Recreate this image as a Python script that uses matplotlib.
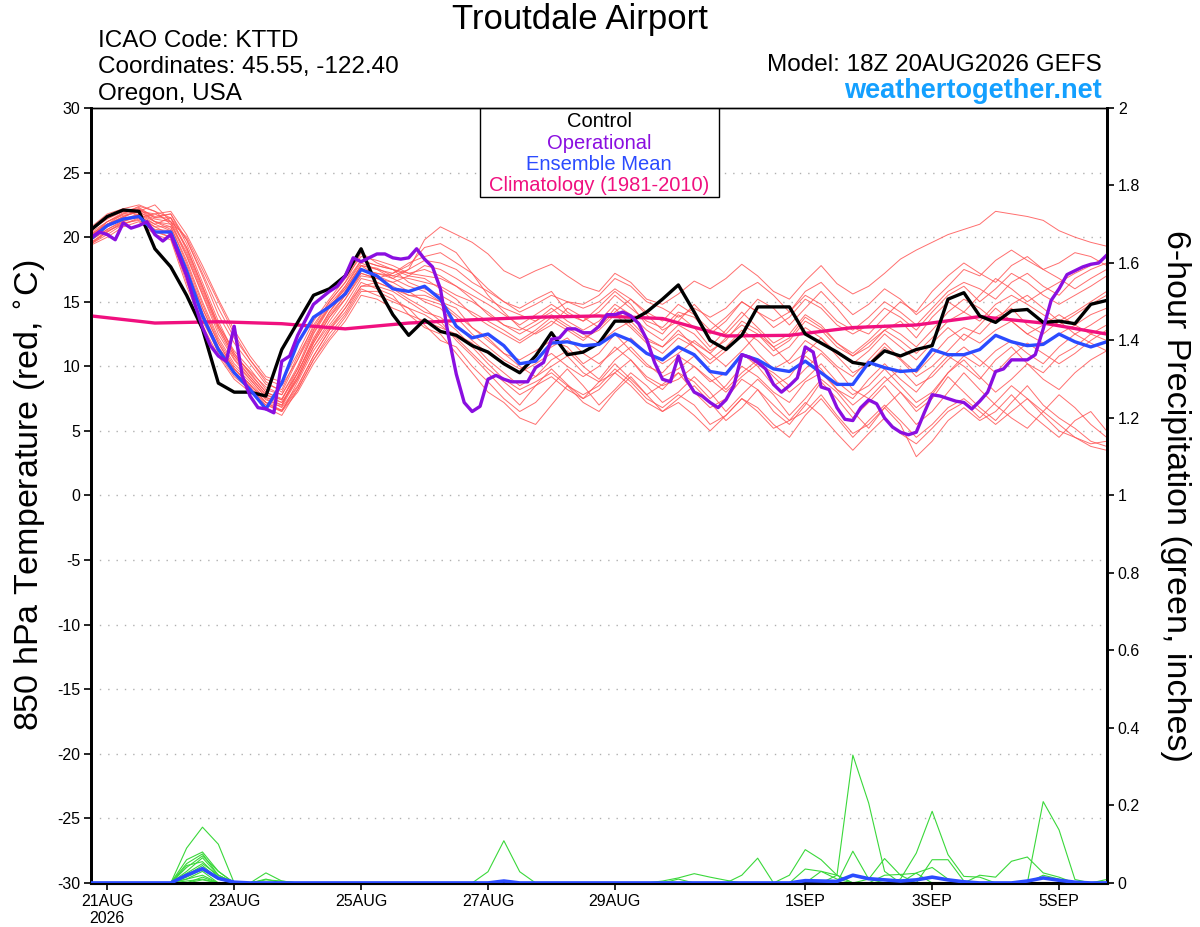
import numpy as np
import matplotlib
matplotlib.use("Agg")
from matplotlib import pyplot as plt
from matplotlib.patches import Rectangle

plt.rcParams['font.family'] = ['Liberation Sans', 'DejaVu Sans']
plt.rcParams['axes.unicode_minus'] = False

# forecast hours from 18Z 20AUG2026
fhr6 = np.arange(0, 385, 6)
fhr3 = np.arange(0, 385, 3)
fhr_clim = np.arange(0, 385, 24)

control = [20.6, 21.6, 22.1, 22.0, 19.1, 17.7, 15.5, 12.9, 8.7, 8.0, 8.0, 7.7, 11.3, 13.4, 15.5, 16.0, 17.0, 19.1, 16.2, 14.0, 12.4, 13.6,
           12.7, 12.4, 11.6, 11.1, 10.2, 9.5, 10.8, 12.6, 10.9, 11.1, 11.8, 13.5, 13.5, 14.2, 15.2, 16.3, 14.2,
           12.0, 11.3, 12.4, 14.6, 14.6, 14.6, 12.5, 11.8, 11.1, 10.3, 10.1, 11.2, 10.8, 11.3, 11.6, 15.2, 15.7,
           13.9, 13.4, 14.3, 14.4, 13.4, 13.5, 13.3, 14.8, 15.1]

ens_mean = [19.9, 20.9, 21.4, 21.6, 20.4, 20.4, 17.4, 13.9, 11.3, 9.5, 8.2, 6.7, 8.7, 11.8, 13.8, 14.6, 15.6, 17.5, 17.0, 16.0, 15.8, 16.2,
            15.2, 13.1, 12.2, 12.5, 11.6, 10.2, 10.4, 11.8, 11.9, 11.6, 11.7, 12.5, 12.0, 11.0, 10.5, 11.5, 10.9,
            9.6, 9.4, 10.9, 10.5, 9.8, 9.6, 10.4, 9.5, 8.6, 8.6, 10.3, 9.9, 9.6, 9.7, 11.3, 10.9, 10.9,
            11.3, 12.4, 11.9, 11.6, 11.7, 12.5, 11.9, 11.5, 11.9]

operational = [20.0, 20.4, 20.2, 19.8, 21.1, 20.7, 20.9, 21.2, 20.2, 19.7, 20.2, 18.6, 17.0, 14.9, 13.0, 11.6, 10.8, 10.4, 13.1, 9.3, 7.7,
               6.8, 6.7, 6.4, 10.4, 10.8, 12.4, 13.6, 14.8, 15.3, 15.8, 16.2, 17.0, 18.4, 18.1, 18.4, 18.7, 18.7, 18.4, 18.3, 18.4, 19.1,
               18.3, 17.7, 16.0, 12.4, 9.4, 7.2, 6.5, 6.9, 9.0, 9.3, 9.0, 8.8, 8.8, 8.8, 9.9, 10.3, 12.1, 12.2,
               12.9, 12.9, 12.6, 12.6, 13.1, 14.0, 14.0, 14.2, 13.9, 13.3, 12.1, 10.3, 9.0, 8.8, 10.8, 9.0, 8.0, 7.7,
               7.2, 6.8, 7.4, 8.5, 10.9, 10.7, 10.3, 9.8, 8.6, 8.0, 8.5, 9.1, 11.5, 11.1, 8.4, 8.2, 6.8, 5.9,
               5.8, 6.8, 7.4, 7.1, 6.0, 5.3, 4.9, 4.7, 4.9, 6.4, 7.8, 7.7, 7.5, 7.3, 7.2, 6.7, 7.3, 8.0,
               9.6, 9.8, 10.5, 10.5, 10.5, 10.9, 12.9, 15.1, 16.0, 17.1, 17.4, 17.7, 17.9, 18.0, 18.6]

climatology = [13.9, 13.35, 13.45, 13.3, 12.9, 13.35, 13.6, 13.8, 13.9, 13.7, 12.35, 12.4, 13.0, 13.2, 13.85, 13.35, 12.5]

members = [
    [20.5, 21.5, 22.0, 22.3, 21.5, 21.8, 19.5, 16.5, 13.5, 11.0, 9.5, 8.0, 7.5, 9.5, 12.0, 14.0, 15.5, 17.5, 17.2, 17.0, 17.5, 19.8,
     20.8, 20.2, 19.6, 18.7, 17.4, 16.8, 17.4, 17.9, 17.0, 16.2, 15.8, 17.2, 16.5, 15.2, 14.8, 15.6, 16.6,
     16.0, 16.8, 17.9, 17.0, 15.8, 15.2, 16.6, 17.8, 16.4, 15.6, 16.2, 17.2, 18.3, 19.0, 19.6, 20.2, 20.6,
     21.0, 22.0, 21.8, 21.6, 21.3, 20.5, 20.0, 19.6, 19.3],
    [19.8, 20.6, 21.2, 21.8, 21.0, 20.5, 17.8, 14.5, 11.8, 9.8, 8.6, 7.2, 6.5, 8.8, 11.2, 13.0, 14.5, 16.2, 16.5, 16.0, 15.2, 14.5,
     13.5, 12.0, 10.8, 9.5, 8.2, 7.0, 8.5, 9.8, 8.6, 7.5, 8.8, 10.2, 9.0, 7.8, 8.6, 9.5, 8.0,
     6.8, 7.5, 9.0, 8.2, 6.5, 5.5, 7.0, 8.8, 7.5, 6.0, 7.2, 8.5, 7.0, 5.5, 6.5, 8.0, 9.5,
     8.2, 7.0, 6.0, 5.2, 6.5, 7.8, 6.8, 5.5, 4.5],
    [20.2, 21.0, 21.8, 22.0, 22.5, 21.2, 20.0, 17.5, 15.0, 12.5, 10.5, 8.8, 8.0, 10.5, 13.2, 15.0, 16.5, 18.2, 17.8, 17.5, 17.0, 16.8,
     16.0, 15.2, 14.0, 13.2, 12.5, 11.8, 12.6, 13.5, 12.8, 12.0, 13.0, 14.5, 13.2, 12.0, 11.5, 12.8, 11.5,
     10.2, 11.2, 12.5, 11.0, 9.8, 10.5, 12.0, 11.2, 10.0, 9.2, 10.5, 11.8, 10.6, 9.5, 10.8, 12.2, 13.0,
     12.5, 13.8, 14.5, 13.2, 12.5, 13.5, 14.2, 15.0, 15.8],
    [19.5, 20.2, 21.0, 21.5, 20.5, 20.0, 16.5, 13.5, 11.2, 9.5, 8.2, 6.8, 6.2, 8.2, 10.5, 12.5, 14.0, 16.0, 15.5, 15.0, 14.5, 13.2,
     12.0, 11.5, 10.0, 8.8, 7.5, 6.5, 7.2, 8.5, 9.8, 8.5, 7.0, 8.2, 9.5, 8.5, 7.2, 8.0, 9.2,
     8.0, 6.5, 7.8, 9.0, 7.8, 6.2, 7.5, 9.0, 8.0, 6.5, 5.2, 6.8, 8.0, 6.5, 7.5, 9.2, 8.0,
     6.8, 5.8, 7.2, 8.5, 7.0, 6.0, 5.2, 4.2, 3.8],
    [20.8, 21.8, 22.2, 21.6, 21.0, 21.5, 19.0, 16.0, 13.0, 10.8, 9.2, 7.8, 7.2, 9.0, 11.5, 13.5, 15.2, 17.0, 16.8, 17.2, 18.0, 18.5,
     18.8, 18.0, 17.2, 16.0, 15.0, 14.5, 15.2, 15.8, 14.2, 13.5, 14.6, 15.8, 14.8, 13.2, 12.5, 14.0, 13.0,
     11.5, 12.8, 14.2, 13.0, 11.8, 12.5, 14.0, 13.2, 11.8, 10.8, 11.5, 12.8, 13.5, 12.2, 13.8, 15.0, 14.2,
     15.5, 16.8, 16.0, 15.0, 15.8, 16.5, 17.2, 17.8, 18.5],
    [19.6, 20.5, 21.0, 21.4, 20.8, 20.2, 17.0, 14.0, 11.5, 9.8, 8.5, 7.5, 6.8, 8.5, 10.8, 12.8, 14.5, 16.5, 16.0, 15.5, 14.0, 13.0,
     12.5, 11.0, 9.5, 8.0, 7.2, 6.0, 5.5, 7.0, 8.5, 7.2, 6.5, 8.0, 9.2, 7.8, 6.5, 7.5, 8.5,
     7.2, 5.8, 6.8, 8.2, 7.0, 5.8, 6.5, 7.8, 6.2, 4.8, 5.5, 6.8, 5.5, 3.0, 4.2, 5.8, 6.8,
     5.8, 6.5, 7.8, 6.5, 5.5, 4.5, 5.8, 6.5, 5.0],
    [20.0, 21.2, 21.8, 22.4, 22.0, 21.0, 18.5, 15.5, 12.5, 10.5, 9.0, 7.6, 7.0, 9.5, 12.0, 14.2, 15.8, 17.8, 17.5, 16.8, 16.2, 15.8,
     15.0, 14.0, 13.0, 12.2, 11.0, 10.5, 11.2, 12.0, 11.5, 10.2, 11.0, 12.5, 11.2, 10.0, 9.5, 10.8, 10.0,
     8.8, 9.5, 11.0, 10.0, 8.5, 9.2, 10.8, 9.8, 8.2, 7.5, 9.0, 10.2, 9.0, 8.0, 9.5, 10.8, 10.0,
     9.0, 10.5, 11.5, 10.2, 9.5, 10.8, 11.5, 12.5, 13.2],
    [20.3, 21.0, 21.6, 22.0, 21.8, 22.0, 20.2, 17.8, 15.2, 12.8, 10.8, 9.2, 8.8, 11.0, 13.5, 15.2, 16.8, 18.5, 18.2, 17.8, 17.2, 17.5,
     17.0, 16.2, 15.5, 14.8, 14.0, 13.2, 14.0, 14.8, 14.0, 13.5, 14.2, 15.5, 14.5, 13.5, 13.0, 14.2, 13.8,
     12.5, 13.5, 15.0, 14.2, 13.0, 13.8, 15.2, 14.5, 13.2, 12.5, 13.2, 14.5, 13.8, 12.8, 14.2, 15.5, 16.2,
     15.0, 16.0, 17.2, 16.5, 15.5, 14.8, 15.5, 16.2, 17.0],
    [19.4, 20.0, 20.8, 21.2, 20.2, 19.8, 16.2, 13.2, 10.8, 9.0, 8.0, 7.0, 6.5, 8.0, 10.2, 12.0, 13.5, 15.5, 15.2, 14.5, 14.0, 13.5,
     13.0, 12.5, 11.8, 10.5, 9.5, 8.5, 9.2, 10.5, 11.2, 10.0, 9.0, 10.5, 11.5, 10.2, 9.2, 9.8, 10.8,
     9.5, 8.2, 9.5, 10.5, 9.2, 8.0, 9.0, 10.2, 8.8, 7.8, 8.5, 9.8, 8.5, 7.2, 8.0, 9.5, 10.5,
     9.2, 8.0, 9.0, 10.2, 9.0, 8.2, 9.5, 10.5, 11.2],
    [20.6, 21.4, 22.0, 22.2, 21.2, 21.0, 18.8, 15.8, 13.0, 10.8, 9.6, 8.4, 7.8, 10.0, 12.8, 14.6, 16.0, 17.8, 17.0, 16.5, 17.0, 17.8,
     17.5, 16.8, 16.0, 15.2, 14.5, 14.0, 13.5, 14.2, 15.0, 14.8, 15.5, 16.8, 16.2, 15.0, 14.5, 13.8, 14.5,
     13.8, 14.5, 15.8, 16.5, 15.5, 14.2, 15.8, 16.5, 15.2, 14.0, 14.8, 16.0, 15.2, 14.0, 15.0, 16.2, 17.5,
     17.0, 18.2, 19.0, 18.2, 17.5, 18.0, 18.8, 18.5, 17.8],
    [19.8, 20.8, 21.4, 21.8, 21.2, 20.8, 18.0, 14.8, 12.0, 10.0, 8.8, 7.4, 7.0, 9.2, 11.8, 13.8, 15.2, 17.2, 16.8, 16.5, 15.8, 15.0,
     14.5, 13.2, 12.0, 11.0, 10.2, 9.5, 10.2, 11.0, 10.0, 9.2, 10.0, 11.5, 10.5, 9.0, 8.2, 9.5, 8.8,
     7.5, 8.5, 10.0, 9.2, 8.0, 7.2, 8.8, 9.5, 8.2, 7.0, 8.0, 9.2, 8.0, 6.8, 7.8, 9.5, 10.8,
     10.0, 11.2, 12.0, 11.0, 10.2, 11.5, 12.5, 13.2, 14.0],
    [20.1, 21.0, 21.5, 21.5, 21.8, 21.2, 19.2, 16.2, 13.2, 11.2, 9.8, 8.2, 7.8, 9.8, 12.5, 14.5, 16.2, 18.0, 17.5, 17.2, 17.8, 19.2,
     19.5, 18.8, 17.2, 15.5, 14.2, 13.0, 12.5, 13.2, 14.5, 13.8, 13.0, 14.2, 15.2, 14.0, 12.8, 13.5, 14.8,
     13.5, 12.5, 13.8, 15.2, 14.5, 13.2, 14.5, 15.8, 14.5, 13.0, 12.5, 13.8, 15.0, 14.2, 15.8, 17.0, 18.0,
     17.2, 16.5, 17.8, 18.5, 17.5, 16.8, 16.0, 16.8, 17.5],
    [19.5, 20.4, 21.2, 21.6, 20.6, 20.5, 17.2, 14.2, 11.5, 9.6, 8.4, 7.0, 6.6, 8.4, 10.8, 12.8, 14.2, 16.2, 16.2, 15.8, 15.0, 14.2,
     13.8, 12.8, 11.5, 10.2, 9.0, 8.2, 8.8, 9.5, 8.5, 7.8, 8.5, 9.8, 8.8, 7.5, 6.8, 7.8, 7.0,
     5.5, 6.2, 7.5, 6.8, 5.5, 4.5, 6.2, 7.5, 6.0, 4.5, 5.8, 7.0, 5.8, 4.5, 5.5, 6.8, 7.5,
     6.5, 5.5, 6.5, 7.5, 6.2, 5.0, 4.5, 3.8, 3.5],
    [20.4, 21.2, 21.9, 22.1, 21.5, 21.5, 19.8, 17.0, 14.0, 11.8, 10.2, 8.6, 8.2, 10.8, 13.0, 15.0, 16.5, 18.8, 18.0, 17.5, 16.5, 16.0,
     15.5, 14.8, 14.2, 13.5, 12.8, 12.0, 12.8, 13.8, 13.0, 12.2, 12.8, 14.0, 13.0, 11.8, 11.0, 12.2, 11.5,
     10.5, 11.5, 12.8, 12.0, 10.8, 11.5, 13.0, 12.2, 11.0, 10.2, 11.2, 12.5, 11.5, 10.5, 11.8, 13.0, 12.0,
     13.2, 14.5, 13.5, 12.5, 13.2, 14.0, 13.2, 12.5, 12.0],
    [19.9, 20.9, 21.6, 22.0, 21.2, 20.6, 17.5, 14.5, 11.8, 9.8, 8.6, 7.2, 6.9, 9.0, 11.5, 13.2, 14.8, 16.8, 16.5, 16.0, 15.5, 15.5,
     15.0, 14.5, 13.0, 12.0, 11.0, 10.0, 9.2, 10.0, 10.8, 9.5, 8.8, 9.5, 10.5, 9.2, 8.5, 9.0, 10.0,
     9.0, 8.0, 9.2, 10.2, 9.5, 8.5, 9.8, 11.0, 9.8, 8.2, 7.5, 8.8, 9.8, 8.5, 9.2, 10.5, 11.5,
     10.5, 9.5, 10.8, 11.8, 11.0, 10.2, 11.0, 12.0, 12.8],
    [20.7, 21.6, 22.2, 22.5, 22.0, 21.5, 19.2, 16.2, 13.2, 11.0, 9.4, 8.0, 7.4, 9.5, 12.2, 14.2, 15.8, 17.5, 17.2, 16.8, 17.5, 18.2,
     18.0, 17.5, 16.5, 15.8, 15.0, 14.2, 14.8, 15.5, 15.0, 14.5, 15.0, 16.0, 15.2, 14.2, 13.5, 14.8, 14.0,
     12.8, 13.8, 15.0, 14.2, 13.5, 14.2, 15.5, 14.8, 13.5, 12.8, 13.8, 15.0, 14.2, 13.2, 14.5, 15.8, 16.5,
     16.0, 15.2, 16.5, 17.2, 16.2, 15.5, 16.8, 17.5, 18.0],
    [19.6, 20.4, 21.1, 21.3, 20.4, 20.0, 16.8, 13.8, 11.0, 9.2, 8.2, 7.2, 6.6, 8.2, 10.5, 12.2, 13.8, 15.8, 15.8, 15.2, 14.5, 14.0,
     13.2, 12.2, 11.0, 9.8, 8.8, 7.8, 8.5, 9.2, 8.2, 7.5, 8.2, 9.5, 8.5, 7.2, 6.5, 7.2, 6.2,
     5.0, 6.2, 7.5, 6.5, 5.2, 5.8, 7.2, 6.2, 4.8, 3.5, 4.8, 6.0, 4.8, 4.0, 5.2, 6.5, 7.2,
     6.0, 7.2, 8.5, 7.5, 6.5, 5.5, 4.5, 4.0, 4.2],
    [20.2, 21.2, 21.7, 21.9, 21.4, 21.2, 18.6, 15.6, 12.8, 10.6, 9.2, 7.8, 7.4, 9.8, 12.6, 14.6, 16.0, 17.8, 17.6, 17.0, 16.8, 16.5,
     16.2, 15.5, 15.0, 14.2, 13.2, 12.5, 13.2, 14.0, 13.2, 12.5, 11.8, 12.8, 13.5, 12.2, 11.5, 12.5, 11.8,
     11.0, 12.2, 13.2, 12.5, 11.2, 12.0, 13.5, 12.8, 11.5, 10.8, 11.8, 12.8, 12.0, 11.0, 12.2, 13.5, 14.2,
     13.5, 14.8, 15.5, 14.8, 14.0, 13.2, 14.0, 14.8, 15.5],
    [19.8, 20.6, 21.3, 21.7, 20.8, 20.8, 18.2, 15.0, 12.2, 10.2, 9.0, 7.6, 7.2, 9.2, 11.8, 13.8, 15.5, 17.2, 16.8, 16.2, 15.5, 15.2,
     14.8, 13.8, 12.5, 11.5, 10.5, 9.8, 10.5, 11.5, 12.2, 11.0, 10.2, 11.2, 12.2, 11.0, 10.2, 11.0, 12.0,
     11.0, 10.0, 11.2, 12.5, 11.5, 10.2, 11.0, 12.2, 10.8, 9.5, 10.2, 11.5, 10.5, 9.2, 10.0, 11.2, 12.5,
     11.8, 12.8, 13.5, 12.5, 11.8, 12.5, 13.2, 14.0, 14.5],
    [20.0, 21.0, 21.5, 22.2, 21.6, 21.8, 19.8, 17.2, 14.5, 12.2, 10.5, 9.0, 8.5, 10.5, 12.8, 14.8, 16.2, 18.2, 17.8, 17.5, 17.2, 17.0,
     16.8, 16.2, 15.2, 14.0, 13.2, 12.8, 13.5, 14.5, 13.5, 12.8, 13.5, 14.8, 14.0, 12.8, 12.0, 13.2, 12.5,
     11.2, 12.0, 13.5, 12.8, 11.5, 12.2, 13.8, 13.0, 11.8, 11.0, 12.0, 13.2, 12.5, 11.5, 12.8, 14.2, 15.2,
     14.5, 13.5, 14.8, 15.5, 14.5, 13.5, 12.5, 11.8, 11.2],
]

# 6-hour precipitation (inches), nonzero steps only: {step index: value}
precip_members = [
    {6: 0.09, 7: 0.144, 8: 0.10, 11: 0.026, 12: 0.005, 47: 0.02, 48: 0.33, 49: 0.206, 50: 0.03},
    {6: 0.06, 7: 0.08, 8: 0.03, 11: 0.01, 48: 0.082, 49: 0.01},
    {6: 0.05, 7: 0.075, 8: 0.02, 11: 0.008, 12: 0.005, 49: 0.01, 50: 0.063, 51: 0.02},
    {6: 0.04, 7: 0.07, 8: 0.03, 25: 0.029, 26: 0.109, 27: 0.029, 51: 0.01, 52: 0.077, 53: 0.185, 54: 0.073, 55: 0.017, 56: 0.015},
    {6: 0.03, 7: 0.065, 8: 0.02, 36: 0.005, 37: 0.013, 38: 0.024, 39: 0.015, 40: 0.007,
     56: 0.02, 57: 0.015, 58: 0.056, 59: 0.067, 60: 0.026, 61: 0.015},
    {6: 0.045, 7: 0.055, 8: 0.015, 26: 0.005, 60: 0.21, 61: 0.137, 62: 0.009},
    {6: 0.025, 7: 0.05, 8: 0.02, 37: 0.01, 64: 0.009},
    {6: 0.02, 7: 0.045, 8: 0.01, 41: 0.02, 42: 0.064},
    {6: 0.015, 7: 0.035, 8: 0.01, 44: 0.02, 45: 0.086, 46: 0.06, 47: 0.02},
    {6: 0.01, 7: 0.03, 45: 0.036, 46: 0.03, 47: 0.01},
    {6: 0.01, 7: 0.02, 46: 0.03, 47: 0.02},
    {7: 0.015, 50: 0.02, 51: 0.022, 52: 0.025},
    {6: 0.005, 7: 0.01, 53: 0.06, 54: 0.06, 55: 0.005},
    {7: 0.008, 52: 0.026, 53: 0.04, 54: 0.01},
    {60: 0.02, 61: 0.01},
]
precip_mean = {6: 0.02, 7: 0.037, 8: 0.012, 9: 0.002, 26: 0.005, 45: 0.006, 46: 0.005, 47: 0.004, 48: 0.02,
               49: 0.011, 50: 0.008, 51: 0.005, 52: 0.008, 53: 0.015, 54: 0.008, 55: 0.003, 59: 0.005,
               60: 0.013, 61: 0.007, 62: 0.002}

tick_days = [0, 2, 4, 6, 8, 11, 13, 15]
tick_labels = ['21AUG\n2026', '23AUG', '25AUG', '27AUG', '29AUG', '1SEP', '3SEP', '5SEP']
temp_ticks = np.arange(-30, 31, 5)
precip_ticks = np.arange(0, 2.01, 0.2)

legend_entries = [('Control', 'black'), ('Operational', '#8a0ee0'),
                  ('Ensemble Mean', '#2b4bff'), ('Climatology (1981-2010)', '#f0107f')]


def to_days(fhr):
    # days since 21AUG 00Z (init is 18Z 20AUG)
    return (np.asarray(fhr) - 6) / 24.0


def sparse_series(d, n):
    arr = np.zeros(n)
    for k, v in d.items():
        arr[k] = v
    return arr


fig = plt.figure(figsize=(12, 9.27), dpi=100)
ax = fig.add_axes([0.0762, 0.0475, 0.846, 0.836])
ax2 = ax.twinx()

t6 = to_days(fhr6)
t3 = to_days(fhr3)

for m in members:
    ax.plot(t6, m, color='#ff5555', lw=0.7, alpha=0.85, zorder=2)

ax.plot(to_days(fhr_clim), climatology, color='#f0107f', lw=2.4, zorder=4)
ax.plot(t6, control, color='black', lw=2.4, zorder=5)
ax.plot(t6, ens_mean, color='#2b4bff', lw=2.4, zorder=6)
ax.plot(t3, operational, color='#8a0ee0', lw=2.4, zorder=7)

for pm in precip_members:
    ax2.plot(t6, sparse_series(pm, len(fhr6)), color='#3ad83a', lw=0.8, zorder=2)
ax2.plot(t6, sparse_series(precip_mean, len(fhr6)), color='#2b4bff', lw=2.6, zorder=3)

ax.set_xlim(-0.25, 15.75)
ax.set_ylim(-30, 30)
ax2.set_ylim(0, 2)

ax.set_yticks(temp_ticks)
ax.set_yticklabels([str(v) for v in temp_ticks])
for v in temp_ticks[1:-1]:
    ax.axhline(v, color='#b0b0b0', lw=1.0, ls=(0, (1, 5)), zorder=1)

ax2.set_yticks(precip_ticks)
ax2.set_yticklabels(['%g' % round(v, 1) for v in precip_ticks])

ax.set_xticks(tick_days)
ax.set_xticklabels(tick_labels)

ax.tick_params(axis='both', direction='out', length=5, width=1.2, labelsize=11.5, pad=3)
ax2.tick_params(axis='y', direction='out', length=5, width=1.2, labelsize=11.5, pad=3)

for a in (ax, ax2):
    a.spines['left'].set_linewidth(2.0)
    a.spines['right'].set_linewidth(2.0)
    a.spines['bottom'].set_linewidth(2.2)
    a.spines['top'].set_linewidth(1.0)

# legend box with centred coloured entries
ax.add_patch(Rectangle((0.3827, 0.885), 0.2353, 0.115, transform=ax.transAxes,
                       facecolor='white', edgecolor='black', lw=1.0, zorder=10))
for k, (label, col) in enumerate(legend_entries):
    ax.text(0.5, 0.982 - k * 0.0275, label, color=col, fontsize=14.5, ha='center', va='center',
            transform=ax.transAxes, zorder=11)

fig.text(0.4833, 0.9795, 'Troutdale Airport', fontsize=25, ha='center', va='center')
fig.text(0.0817, 0.956, 'ICAO Code: KTTD', fontsize=17.5, ha='left', va='center')
fig.text(0.0817, 0.928, 'Coordinates: 45.55, -122.40', fontsize=17.5, ha='left', va='center')
fig.text(0.0817, 0.899, 'Oregon, USA', fontsize=17.5, ha='left', va='center')
fig.text(0.9183, 0.930, 'Model: 18Z 20AUG2026 GEFS', fontsize=17.5, ha='right', va='center')
fig.text(0.9183, 0.902, 'weathertogether.net', fontsize=19.5, fontweight='bold', color='#14a0ff',
         ha='right', va='center')

fig.text(0.026, 0.4655, '850 hPa Temperature (red, $^{\\circ}$C)', fontsize=24.5, rotation=90,
         ha='center', va='center')
fig.text(0.980, 0.4655, '6-hour Precipitation (green, inches)', fontsize=24.5, rotation=270,
         ha='center', va='center')

fig.savefig('out.png', dpi=100)
